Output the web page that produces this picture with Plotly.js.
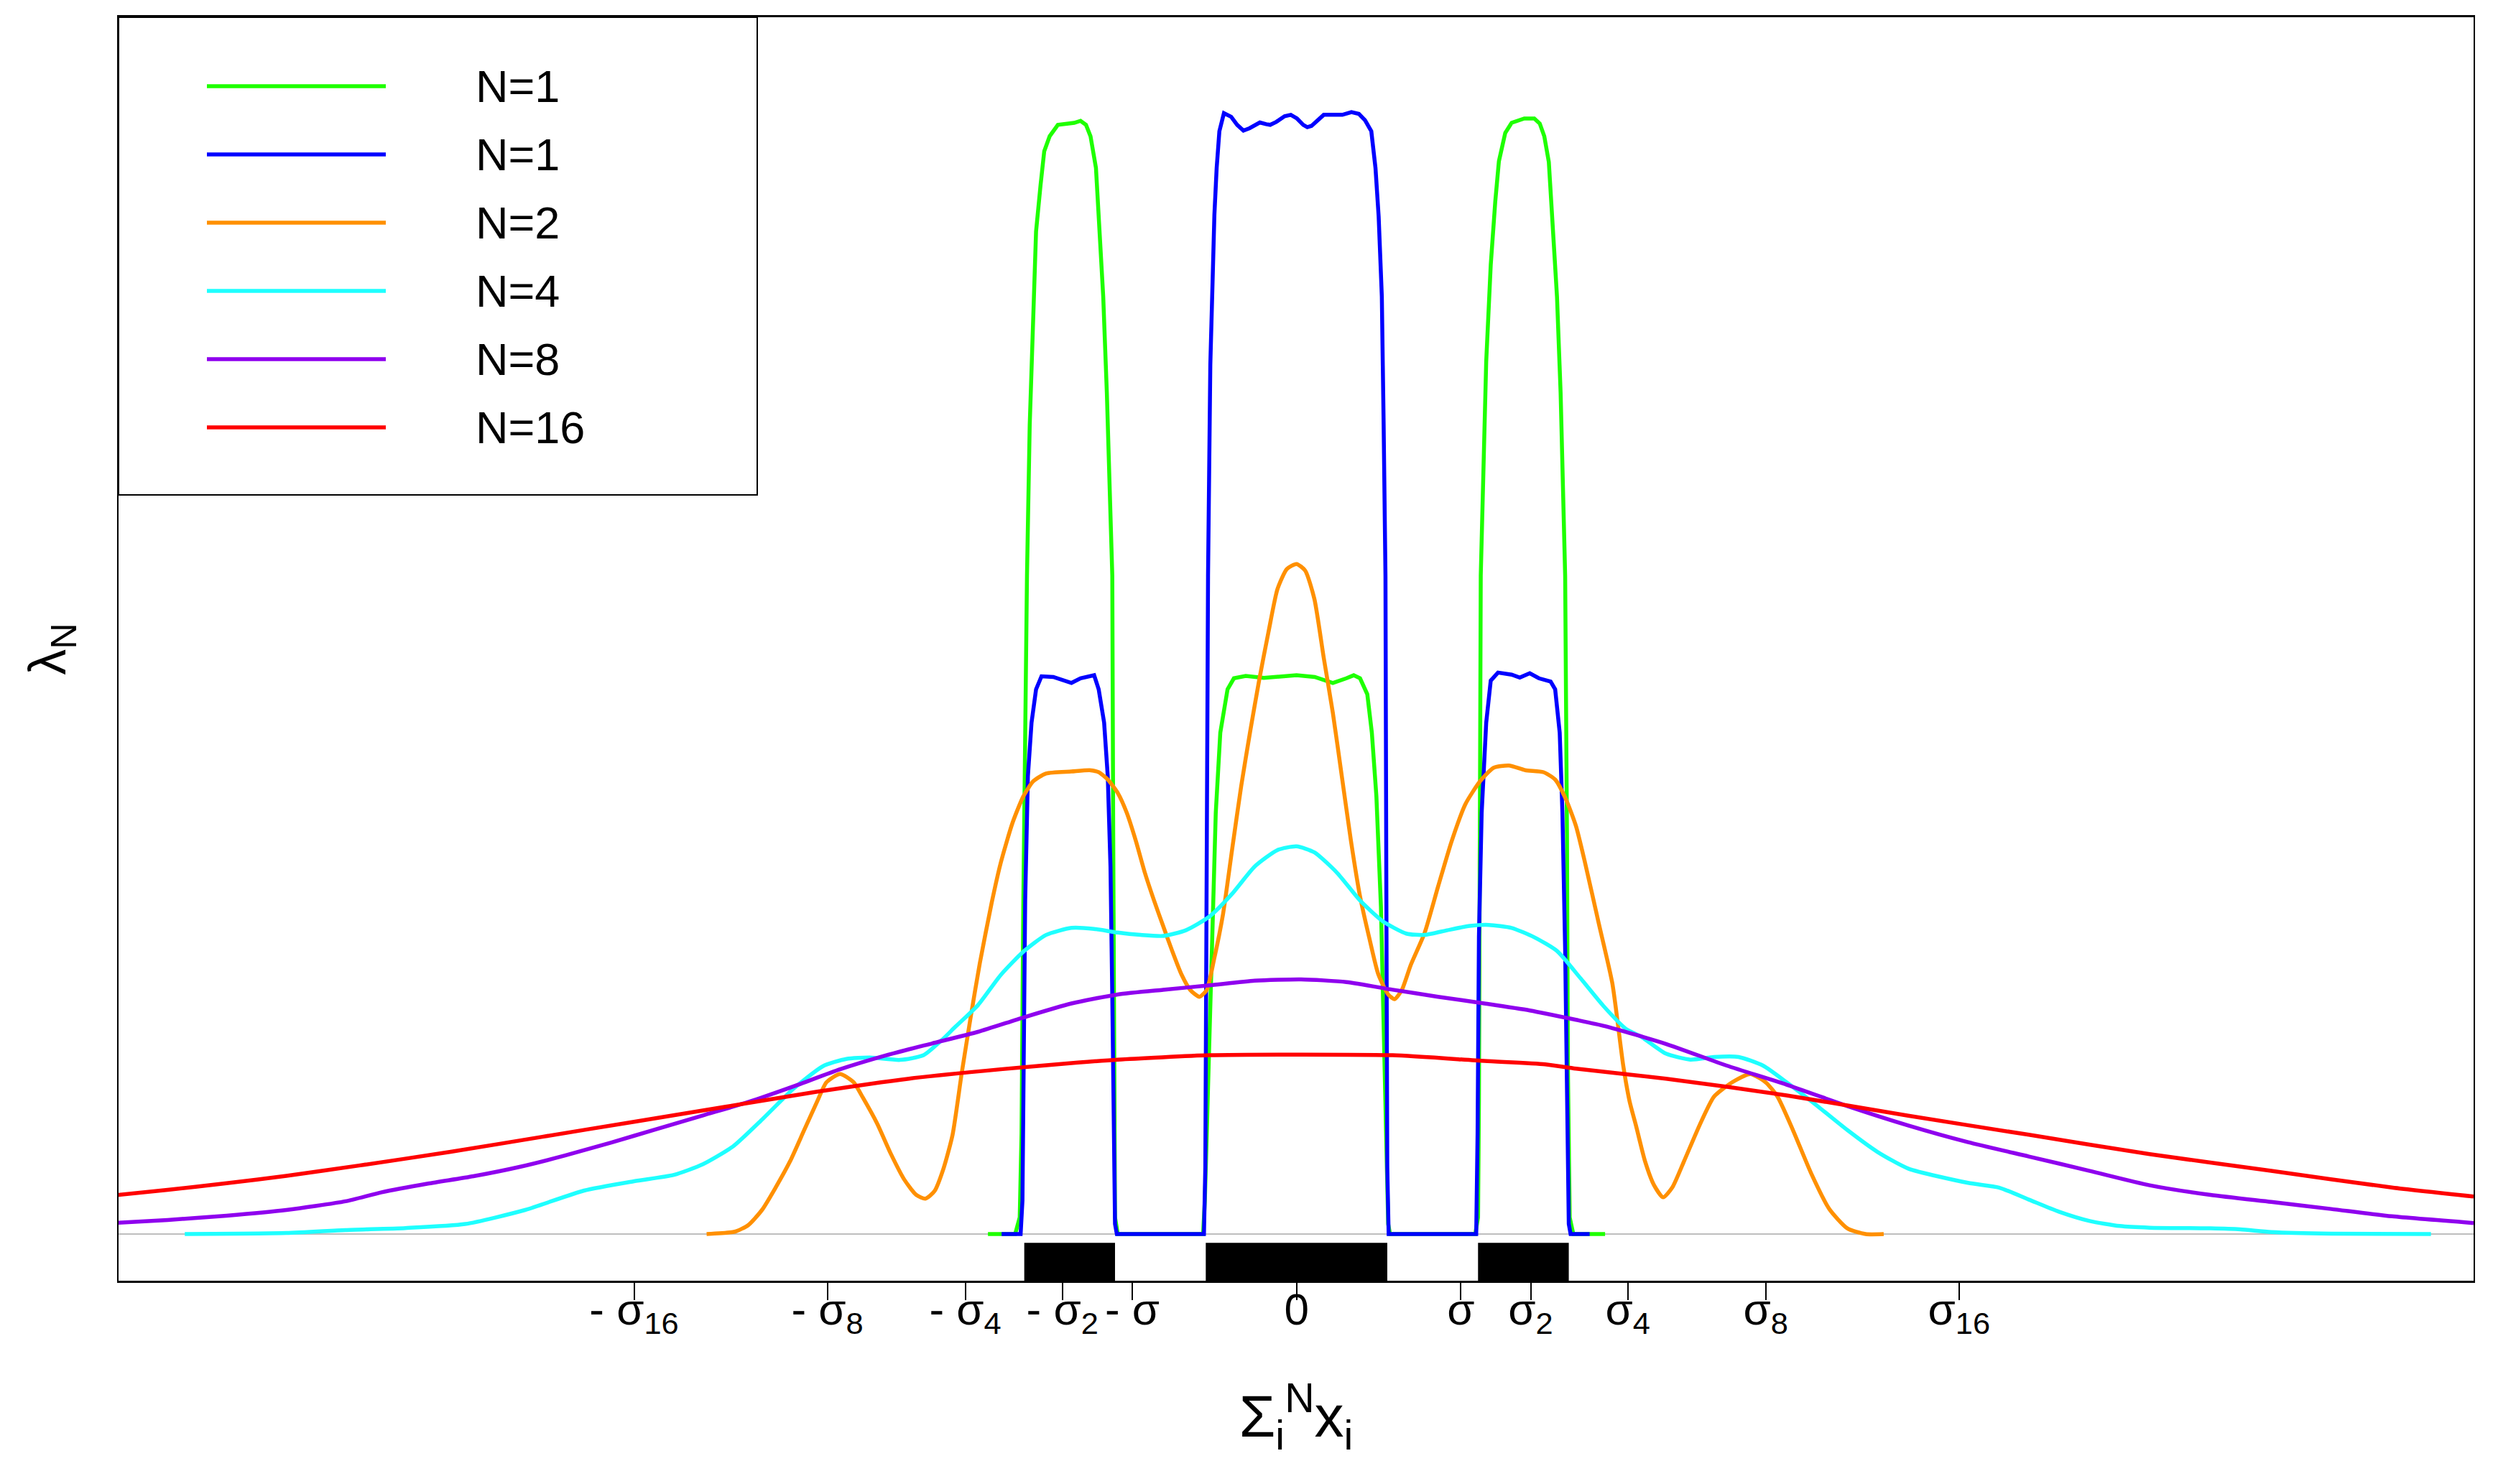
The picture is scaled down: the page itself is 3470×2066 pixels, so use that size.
<!DOCTYPE html>
<html>
<head>
<meta charset="utf-8">
<script src="https://cdn.plot.ly/plotly-3.0.1.min.js"></script>
<style>html,body{margin:0;padding:0;background:#fff;}#chart{width:3470px;height:2066px;}</style>
</head>
<body>
<div id="chart"></div>
<script>
// ---------- data (x in units of the support blocks, y = density) ----------
const seriesNames  = ["N=1", "N=1", "N=2", "N=4", "N=8", "N=16"];
const seriesColors = ["#1eff00", "#0000ff", "#ff9000", "#1effff", "#8f00ee", "#ff0000"];

const greenX = [-3.40,-3.10,-3.05,-3.03,-3.01,-2.99,-2.97,-2.94,-2.90,-2.87,-2.82,-2.78,-2.72,-2.63,-2.45,-2.38,-2.32,-2.27,-2.21,-2.18,-2.13,-2.09,-2.06,-2.03,-2.02,-2.01,-2.00,-1.97,
  -1.03,-1.01,-0.98,-0.94,-0.89,-0.84,-0.76,-0.69,-0.56,-0.36,-0.16,0.00,0.20,0.40,0.55,0.63,0.70,0.78,0.83,0.88,0.93,0.96,0.99,1.01,1.03,
  1.97,2.00,2.01,2.02,2.03,2.09,2.14,2.19,2.23,2.30,2.37,2.51,2.62,2.68,2.73,2.78,2.82,2.87,2.91,2.94,2.96,2.98,2.99,3.01,3.05,3.40];
const greenY = [0,0,0.005,0.03,0.10,0.16,0.197,0.242,0.2805,0.300,0.314,0.324,0.3285,0.3319,0.3325,0.3331,0.3319,0.3285,0.319,0.3045,0.2805,0.2517,0.223,0.197,0.12,0.04,0.005,0,
  0,0.01,0.04,0.071,0.126,0.150,0.163,0.1663,0.167,0.1664,0.1667,0.1672,0.1667,0.1649,0.1663,0.1672,0.1663,0.1615,0.150,0.131,0.098,0.06,0.02,0.003,0,
  0,0.005,0.04,0.12,0.197,0.261,0.290,0.309,0.321,0.3295,0.3325,0.3338,0.3338,0.3323,0.3285,0.3208,0.3045,0.2805,0.2517,0.223,0.197,0.12,0.05,0.005,0,0];

const blueX = [-3.25,-3.04,-3.02,-3.01,-2.99,-2.96,-2.92,-2.87,-2.81,-2.68,-2.55,-2.48,-2.38,-2.23,-2.18,-2.12,-2.08,-2.05,-2.03,-2.015,-2.00,-1.98,
  -1.02,-1.005,-0.99,-0.975,-0.95,-0.93,-0.905,-0.88,-0.85,-0.80,-0.72,-0.654,-0.585,-0.517,-0.404,-0.335,-0.29,-0.222,-0.131,-0.063,0.005,0.074,0.119,0.165,0.233,0.30,0.505,0.605,0.687,0.755,0.824,0.87,0.905,0.94,0.96,0.98,0.99,1.00,1.015,
  1.98,1.995,2.01,2.04,2.09,2.14,2.22,2.37,2.46,2.57,2.67,2.80,2.85,2.90,2.93,2.96,2.985,3.00,3.02,3.23];
const blueY = [0,0,0.01,0.05,0.10,0.137,0.153,0.163,0.1669,0.1667,0.1655,0.1649,0.1663,0.1672,0.163,0.153,0.137,0.11,0.071,0.03,0.003,0,
  0,0.02,0.10,0.197,0.26,0.2805,0.305,0.319,0.330,0.3354,0.3343,0.3319,0.3302,0.3309,0.3326,0.3321,0.3319,0.3328,0.3345,0.3349,0.3338,0.3319,0.3312,0.3316,0.3333,0.3349,0.3349,0.3357,0.3352,0.3333,0.330,0.319,0.3045,0.2805,0.242,0.197,0.10,0.02,0,
  0,0.03,0.089,0.126,0.153,0.1656,0.168,0.1674,0.1665,0.1678,0.1663,0.1653,0.163,0.150,0.126,0.085,0.03,0.003,0,0];

const orangeX = [-6.50,-6.19,-6.04,-5.89,-5.74,-5.58,-5.43,-5.28,-5.18,-5.03,-4.88,-4.78,-4.62,-4.47,-4.32,-4.19,-4.09,-3.99,-3.89,-3.79,-3.69,-3.59,-3.49,-3.36,-3.26,-3.13,-3.01,-2.90,-2.76,-2.48,-2.28,-2.18,-2.08,-1.97,-1.87,-1.77,-1.67,-1.57,-1.47,-1.37,-1.27,-1.17,-1.07,-0.99,-0.91,-0.81,-0.71,-0.61,-0.51,-0.41,-0.31,-0.21,-0.106,0,
  0.096,0.197,0.30,0.40,0.50,0.60,0.70,0.80,0.90,1.01,1.08,1.16,1.26,1.41,1.56,1.71,1.86,2.02,2.17,2.34,2.52,2.72,2.85,2.97,3.08,3.18,3.33,3.48,3.60,3.67,3.74,3.84,3.94,4.04,4.14,4.27,4.44,4.60,4.80,5.00,5.17,5.30,5.47,5.67,5.87,6.07,6.27,6.47];
const orangeY = [0,0.0007,0.0027,0.0072,0.0139,0.0218,0.0308,0.0398,0.0454,0.0479,0.0454,0.0409,0.033,0.024,0.0162,0.0117,0.0106,0.0128,0.0196,0.0297,0.048,0.065,0.081,0.099,0.111,0.123,0.131,0.1355,0.1378,0.1384,0.1388,0.1382,0.136,0.132,0.126,0.1176,0.108,0.0998,0.0922,0.0847,0.0778,0.073,0.071,0.073,0.082,0.0957,0.115,0.134,0.1505,0.166,0.180,0.193,0.199,0.2005,
  0.1985,0.190,0.1724,0.156,0.1368,0.1176,0.101,0.0888,0.0778,0.0717,0.0703,0.073,0.0806,0.090,0.104,0.1176,0.1286,0.1354,0.1395,0.1402,0.1388,0.1382,0.136,0.130,0.122,0.111,0.093,0.075,0.0504,0.0397,0.0325,0.0218,0.0146,0.011,0.0139,0.0218,0.0325,0.0411,0.0454,0.0479,0.0454,0.0411,0.0311,0.0182,0.0075,0.0017,0,0];

const cyanX = [-12.25,-11.13,-10.48,-9.82,-9.16,-8.50,-7.85,-7.30,-6.86,-6.54,-6.21,-5.88,-5.55,-5.22,-4.96,-4.70,-4.37,-4.11,-3.91,-3.76,-3.51,-3.26,-3.01,-2.76,-2.48,-2.23,-1.97,-1.72,-1.47,-1.22,-0.96,-0.71,-0.46,-0.21,0,
  0.197,0.45,0.70,0.95,1.21,1.41,1.66,1.91,2.12,2.37,2.62,2.87,3.13,3.38,3.63,3.80,4.07,4.34,4.60,4.87,5.14,5.40,5.74,6.07,6.40,6.74,7.40,7.74,8.07,8.40,8.74,9.07,9.40,10.07,10.40,10.74,11.40,12.50];
const cyanY = [0,0.0003,0.0012,0.0018,0.003,0.0072,0.013,0.0158,0.0177,0.0209,0.0262,0.0345,0.0433,0.0502,0.0524,0.0528,0.0521,0.0535,0.058,0.062,0.0685,0.0775,0.0845,0.0895,0.0916,0.0913,0.0902,0.0895,0.0892,0.0909,0.095,0.1018,0.110,0.1149,0.116,
  0.1142,0.108,0.0998,0.0936,0.0899,0.0895,0.0909,0.0922,0.0925,0.0916,0.0888,0.0847,0.0765,0.0683,0.0614,0.059,0.054,0.0522,0.053,0.053,0.0504,0.0454,0.0383,0.0311,0.0246,0.0196,0.0153,0.0139,0.0103,0.0067,0.0039,0.0024,0.0019,0.0017,0.0014,0.0006,0.0001,0];

const purpleX = [-13.10,-12.44,-11.79,-11.13,-10.48,-10.08,-9.57,-9.07,-8.56,-8.06,-7.55,-7.05,-6.54,-6.04,-5.53,-5.03,-4.52,-4.02,-3.51,-3.01,-2.48,-1.97,-1.47,-0.96,-0.46,0.05,
  0.55,1.06,1.56,2.07,2.57,3.08,3.40,4.07,4.74,5.40,6.07,6.74,7.40,8.07,8.74,9.40,10.07,10.74,11.40,12.07,12.97];
const purpleY = [0.0032,0.0042,0.0055,0.0072,0.0098,0.0125,0.0151,0.0173,0.0201,0.0235,0.0274,0.0314,0.0355,0.0395,0.0443,0.0493,0.0535,0.0570,0.0605,0.0648,0.0690,0.0717,0.0731,0.0744,0.0758,0.0762,
  0.0754,0.0731,0.0710,0.0690,0.0669,0.0641,0.0622,0.0569,0.0504,0.0447,0.0383,0.0325,0.0275,0.0232,0.0189,0.0146,0.0117,0.0096,0.0075,0.0053,0.0033];

const redX = [-13.10,-12.44,-11.79,-11.13,-10.33,-9.32,-8.31,-7.30,-6.29,-5.28,-4.27,-3.26,-2.41,-1.97,-0.96,0,1.06,2.07,2.74,3.08,4.07,5.40,6.74,8.07,9.40,10.74,12.07,12.97];
const redY = [0.0114,0.0132,0.0152,0.0174,0.0205,0.0246,0.0291,0.0336,0.0381,0.0426,0.0465,0.0493,0.0513,0.0522,0.0535,0.0537,0.0535,0.0518,0.0508,0.0495,0.0465,0.0415,0.0354,0.0297,0.0239,0.0189,0.0139,0.0112];

// support of the sampled variable (drawn as the rug under the curves)
const rugStart = [-3, -1, 2];
const rugEnd   = [-2,  1, 3];

// x tick positions (±σ_N) and their labels
const tickValues = [-7.30, -5.17, -3.65, -2.58, -1.81, 0, 1.81, 2.58, 3.65, 5.17, 7.30];
const tickLabels = ["- σ<sub>16</sub>", "- σ<sub>8</sub>", "- σ<sub>4</sub>", "- σ<sub>2</sub>", "- σ", "0",
                    "σ", "σ<sub>2</sub>", "σ<sub>4</sub>", "σ<sub>8</sub>", "σ<sub>16</sub>"];

// ---------- figure ----------
const FONT = "Liberation Sans, Arial, Helvetica, sans-serif";
const W = 3470, H = 2066;
const M = {l: 165, r: 27, t: 24, b: 283};
const plotW = W - M.l - M.r, plotH = H - M.t - M.b;
const px2fx = p => (p - M.l) / plotW;          // page px -> paper x
const py2fy = p => (H - M.b - p) / plotH;      // page px -> paper y
const LW = 5.5;

const xs = [greenX, blueX, orangeX, cyanX, purpleX, redX];
const ys = [greenY, blueY, orangeY, cyanY, purpleY, redY];
const smooth = [false, false, true, true, true, true];

const traces = xs.map((x, i) => ({
  type: "scatter", mode: "lines", x: x, y: ys[i], name: seriesNames[i],
  line: smooth[i] ? {color: seriesColors[i], width: LW, shape: "spline", smoothing: 0.6}
                  : {color: seriesColors[i], width: LW},
  showlegend: false, hoverinfo: "skip"
}));

const shapes = [];
// grey zero line
shapes.push({type: "line", xref: "paper", x0: 0, x1: 1, yref: "y", y0: 0, y1: 0,
             line: {color: "#bebebe", width: 2}, layer: "below"});
// rug
rugStart.forEach((a, i) => shapes.push({type: "rect", xref: "x", x0: a, x1: rugEnd[i],
  yref: "paper", y0: 0, y1: 0.03, fillcolor: "#000", line: {width: 0}}));

// manual legend (long sample lines as in the original)
const legBox = {x0: 165, x1: 1054, y0: 24, y1: 689};
shapes.push({type: "rect", xref: "paper", yref: "paper",
  x0: px2fx(legBox.x0), x1: px2fx(legBox.x1), y0: py2fy(legBox.y1), y1: py2fy(legBox.y0),
  line: {color: "#000", width: 2}, fillcolor: "rgba(255,255,255,1)"});
const annotations = [];
seriesNames.forEach((nm, i) => {
  const yy = py2fy(120 + i * 95);
  shapes.push({type: "line", xref: "paper", yref: "paper", x0: px2fx(288), x1: px2fx(537), y0: yy, y1: yy,
               line: {color: seriesColors[i], width: LW}});
  annotations.push({xref: "paper", yref: "paper", x: px2fx(660), y: yy, xanchor: "left", yanchor: "middle",
                    text: nm, showarrow: false, font: {family: FONT, size: 63, color: "#000"}});
});

const layout = {
  width: W, height: H,
  margin: {l: M.l, r: M.r, t: M.t, b: M.b, pad: 0},
  paper_bgcolor: "#fff", plot_bgcolor: "#fff",
  font: {family: FONT, color: "#000"},
  showlegend: false,
  xaxis: {
    range: [-12.98, 12.97], showgrid: false, zeroline: false,
    showline: true, linecolor: "#000", linewidth: 3, mirror: true,
    ticks: "outside", ticklen: 24, tickwidth: 2, tickcolor: "#000",
    tickmode: "array", tickvals: tickValues, ticktext: tickLabels, tickangle: 0,
    ticklabelstandoff: -40,
    tickfont: {family: FONT, size: 62, color: "#000"},
    title: {text: "Σ<sub>i</sub><sup>N</sup>x<sub>i</sub>", font: {family: FONT, size: 82, color: "#000"}, standoff: 78}
  },
  yaxis: {
    range: [-0.01397, 0.3641], showgrid: false, zeroline: false,
    showline: true, linecolor: "#000", linewidth: 2, mirror: true,
    ticks: "", showticklabels: false,
    title: {text: "λ<sub>N</sub>", font: {family: FONT, size: 72, color: "#000"}, standoff: 48}
  },
  shapes: shapes,
  annotations: annotations
};

Plotly.newPlot("chart", traces, layout, {staticPlot: true, displayModeBar: false});
</script>
</body>
</html>
